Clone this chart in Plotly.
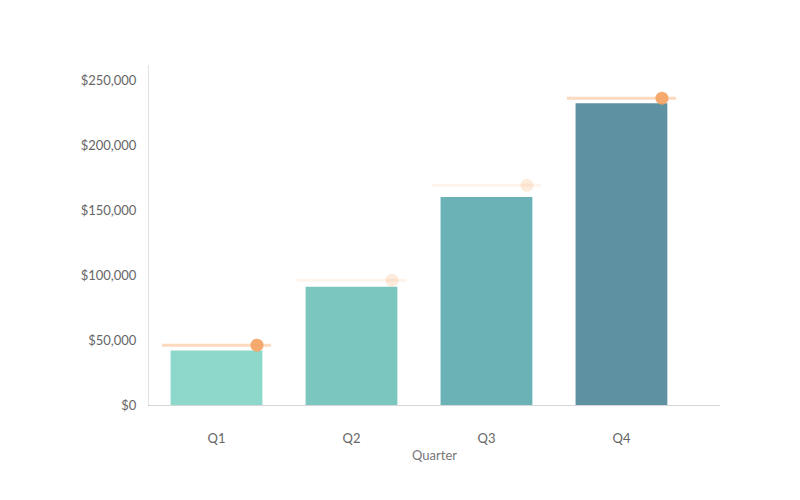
import plotly.graph_objects as go

quarters = ['Q1', 'Q2', 'Q3', 'Q4']
revenue = [42000, 91000, 160000, 232000]
target = [46000, 96000, 169000, 236000]
y_ticks = [0, 50000, 100000, 150000, 200000, 250000]
y_tick_text = ['$0', '$50,000', '$100,000', '$150,000', '$200,000', '$250,000']
bar_colors = ['#8dd8ca', '#7bc6bf', '#6bb2b6', '#5e91a2']

x_pos = list(range(len(quarters)))

fig = go.Figure()

fig.add_trace(go.Bar(
    x=x_pos,
    y=revenue,
    name='Revenue',
    marker=dict(color=bar_colors, line=dict(width=0)),
    width=0.68,
))

# faint orange target caps over each bar
fig.add_trace(go.Scatter(
    x=x_pos,
    y=target,
    mode='markers',
    showlegend=False,
    hoverinfo='skip',
    marker=dict(symbol='line-ew', size=78,
                line=dict(color=['rgba(244,162,97,0.4)', 'rgba(244,162,97,0.12)',
                                 'rgba(244,162,97,0.12)', 'rgba(244,162,97,0.4)'],
                          width=3)),
))

# target dots at the right edge of each bar
fig.add_trace(go.Scatter(
    x=[i + 0.3 for i in x_pos],
    y=target,
    name='Target',
    mode='markers',
    marker=dict(color='#f4a261', size=13,
                opacity=[0.9, 0.22, 0.22, 0.9]),
))

fig.update_layout(
    width=800,
    height=500,
    margin=dict(l=141, r=88, t=57, b=103),
    paper_bgcolor='white',
    plot_bgcolor='white',
    showlegend=False,
    font=dict(family='Lato', size=13, color='#666666'),
    xaxis=dict(
        tickmode='array',
        tickvals=x_pos,
        ticktext=quarters,
        range=[-0.5, 3.73],
        showline=True,
        linecolor='#d6d6d6',
        linewidth=1,
        showgrid=False,
        zeroline=False,
        ticks='',
        ticklabelstandoff=21,
        title=dict(text='Quarter', standoff=6, font=dict(size=13, color='#777777')),
    ),
    yaxis=dict(
        range=[0, 261500],
        tickmode='array',
        tickvals=y_ticks,
        ticktext=y_tick_text,
        showline=True,
        linecolor='#e2e2e2',
        showgrid=False,
        zeroline=False,
        ticks='',
        ticklabelstandoff=9,
    ),
)

fig.write_html('out.html')
